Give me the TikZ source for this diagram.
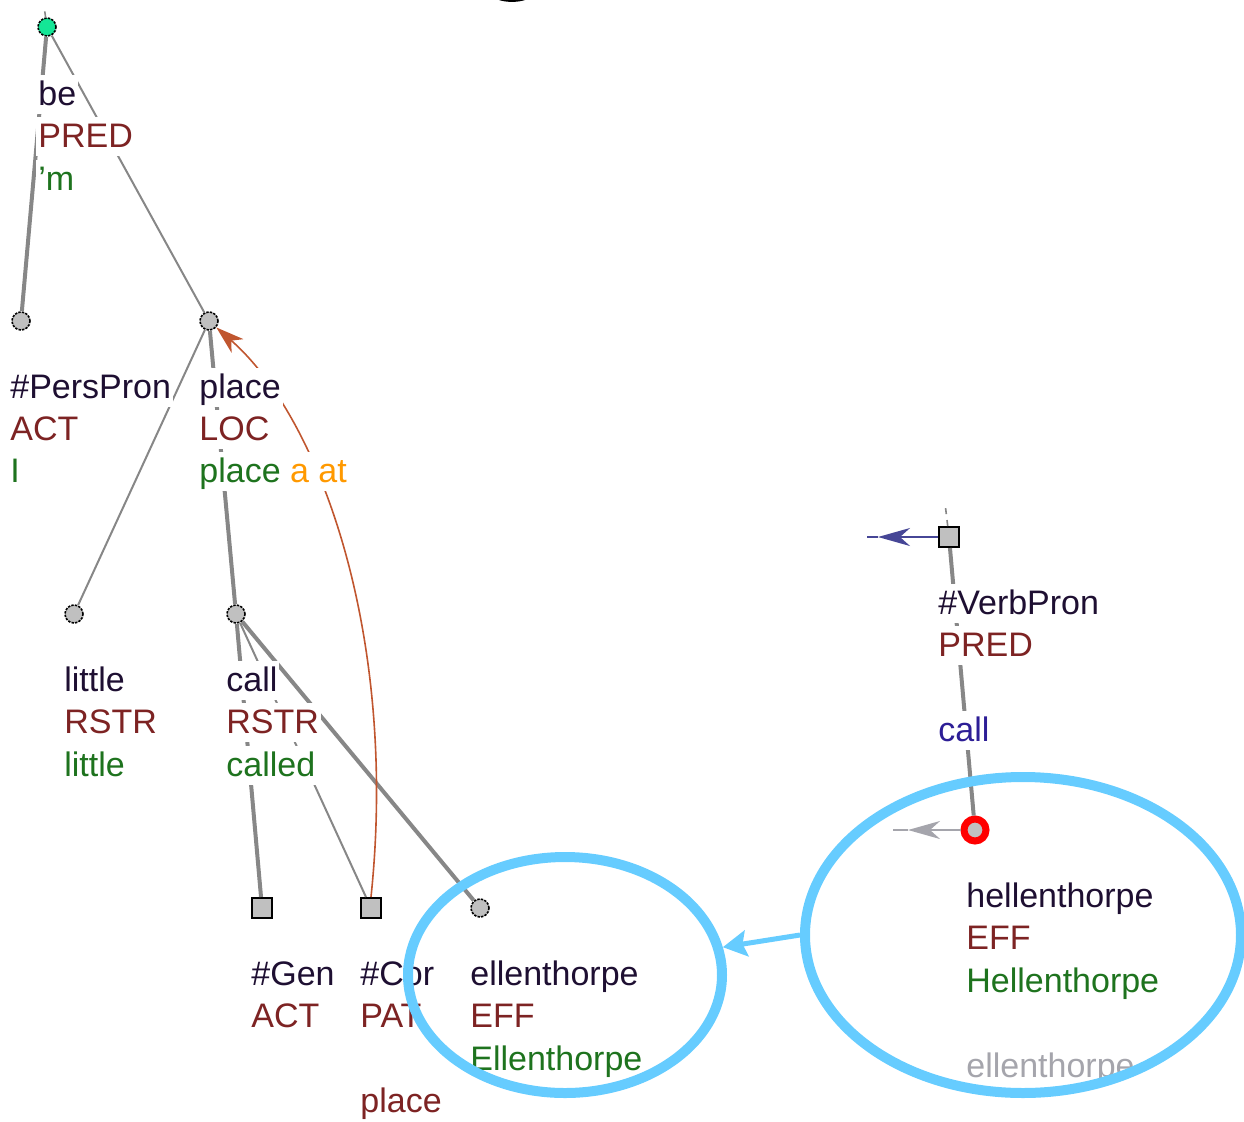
\documentclass[tikz,border=0pt]{standalone}
\usepackage{fontspec}
\setmainfont{Liberation Sans}
\usetikzlibrary{positioning}
\usetikzlibrary{arrows.meta,shapes.geometric}

\definecolor{wordc}{RGB}{30,15,50}
\definecolor{funcc}{RGB}{125,35,35}
\definecolor{formc}{RGB}{30,115,30}
\definecolor{auxc}{RGB}{255,153,0}
\definecolor{greyc}{RGB}{165,165,172}
\definecolor{verbc}{RGB}{45,30,150}
\definecolor{nodegray}{RGB}{192,192,192}
\definecolor{rootc}{RGB}{20,230,150}
\definecolor{edgec}{RGB}{135,135,135}
\definecolor{corefc}{RGB}{192,86,47}
\definecolor{vpc}{RGB}{70,70,150}
\definecolor{markc}{RGB}{102,204,255}

\tikzset{
  tnode/.style={circle,draw=black,fill=nodegray,line width=0.8pt,dash pattern=on 1.2pt off 0.6pt,minimum size=9pt,inner sep=0pt},
  rootnode/.style={tnode,fill=rootc},
  focusnode/.style={circle,draw=red,fill=nodegray,line width=3.5pt,minimum size=11pt,inner sep=0pt},
  sqnode/.style={rectangle,draw=black,fill=nodegray,line width=1pt,minimum size=10pt,inner sep=0pt},
  lbl/.style={anchor=base west,fill=white,inner sep=1pt,text height=14pt,text depth=3.5pt,font=\fontsize{17}{20}\selectfont},
  word/.style={lbl,text=wordc},
  func/.style={lbl,text=funcc},
  form/.style={lbl,text=formc},
  strong/.style={draw=edgec,line width=2pt},
  weak/.style={draw=edgec,line width=1pt},
  stub/.style={draw=edgec,line width=0.8pt,dashed},
  coref/.style={draw=corefc,line width=0.8pt,-{Stealth[length=14pt,width=9pt,inset=4pt]}},
  vparrow/.style={draw=vpc,line width=1pt,-{Stealth[length=16pt,width=9pt,inset=5pt]}},
  grayarrow/.style={draw=greyc,line width=1pt,-{Stealth[length=16pt,width=9pt,inset=5pt]}},
  markring/.style={ellipse,draw=markc,line width=5pt,inner sep=0pt},
  markarrow/.style={draw=markc,line width=2.5pt,-{Stealth[length=12pt,width=13pt,inset=2pt]}}
}

\begin{document}
\begin{tikzpicture}[x=0.5pt,y=-0.5pt]
\useasboundingbox (0,0) rectangle (1244,1121);
\fill[black] (499,0) .. controls (506,2.5) and (518,2.5) .. (525,0) -- cycle;

% tree nodes
\node[rootnode](be) at (47,27){};
\node[tnode](pers) at (21,321){};
\node[tnode](place) at (209,321){};
\node[tnode](little) at (74,614){};
\node[tnode](call) at (236,614){};
\node[sqnode](gen) at (262,908){};
\node[sqnode](cor) at (371,908){};
\node[tnode](ell) at (480,908){};
\node[sqnode](vp) at (949,537){};
\node[focusnode](hell) at (975,830){};
\coordinate (beTop) at (44,6);
\coordinate (vpTop) at (945,503);
\coordinate (vpTip) at (878,537);
\coordinate (vpEnd) at (867,537);
\coordinate (hellTip) at (908,830);
\coordinate (hellEnd) at (893,830);

\path
(be) edge[stub] (beTop)
(be) edge[strong] (pers)
(be) edge[weak] (place)
(place) edge[weak] (little)
(place) edge[strong] (call)
(call) edge[strong] (gen)
(call) edge[weak] (cor)
(call) edge[strong] (ell)
(vp) edge[stub] (vpTop)
(vp) edge[strong] (hell);

\draw[coref] (cor.north) .. controls (398,640) and (322,420) .. (place);
\draw[vparrow] (vp) -- (vpTip);
\draw[draw=vpc,line width=1pt] (vpTip) -- (vpEnd);
\draw[grayarrow] (hell) -- (hellTip);
\draw[draw=greyc,line width=1pt] (hellTip) -- (hellEnd);

% labels
\node[word](be1) at (36,105){be};
\node[func](be2) at (36,147){PRED};
\node[form](be3) at (36,190){’m};
\node[word](pers1) at (8,398){\#PersPron};
\node[func](pers2) at (8,440){ACT};
\node[form](pers3) at (8,482){I};
\node[word](place1) at (197,398){place};
\node[func](place2) at (197,440){LOC};
\node[form](place3) at (197,482){place \textcolor{auxc}{a at}};
\node[word](little1) at (62,691){little};
\node[func](little2) at (62,733){RSTR};
\node[form](little3) at (62,776){little};
\node[word](call1) at (224,691){call};
\node[func](call2) at (224,733){RSTR};
\node[form](call3) at (224,776){called};
\node[word](gen1) at (249,985){\#Gen};
\node[func](gen2) at (249,1027){ACT};
\node[word](cor1) at (358,985){\#Cor};
\node[func](cor2) at (358,1027){PAT};
\node[func](cor4) at (358,1112){place};
\node[word](ell1) at (468,985){ellenthorpe};
\node[func](ell2) at (468,1027){EFF};
\node[form](ell3) at (468,1070){Ellenthorpe};
\node[word](vp1) at (936,614){\#VerbPron};
\node[func](vp2) at (936,656){PRED};
\node[lbl,text=verbc](vp4) at (936,741){call};
\node[word](hell1) at (964,907){hellenthorpe};
\node[func](hell2) at (964,949){EFF};
\node[form](hell3) at (964,992){Hellenthorpe};
\node[lbl,text=greyc,fill=none](hell5) at (964,1077){ellenthorpe};

% highlight marks
\node[markring,minimum width=157pt,minimum height=118pt](markA) at (565,975){};
\node[markring,minimum width=218pt,minimum height=158pt](markB) at (1023,935){};
\draw[markarrow] (markB.west) -- (markA.10);
\end{tikzpicture}
\end{document}
